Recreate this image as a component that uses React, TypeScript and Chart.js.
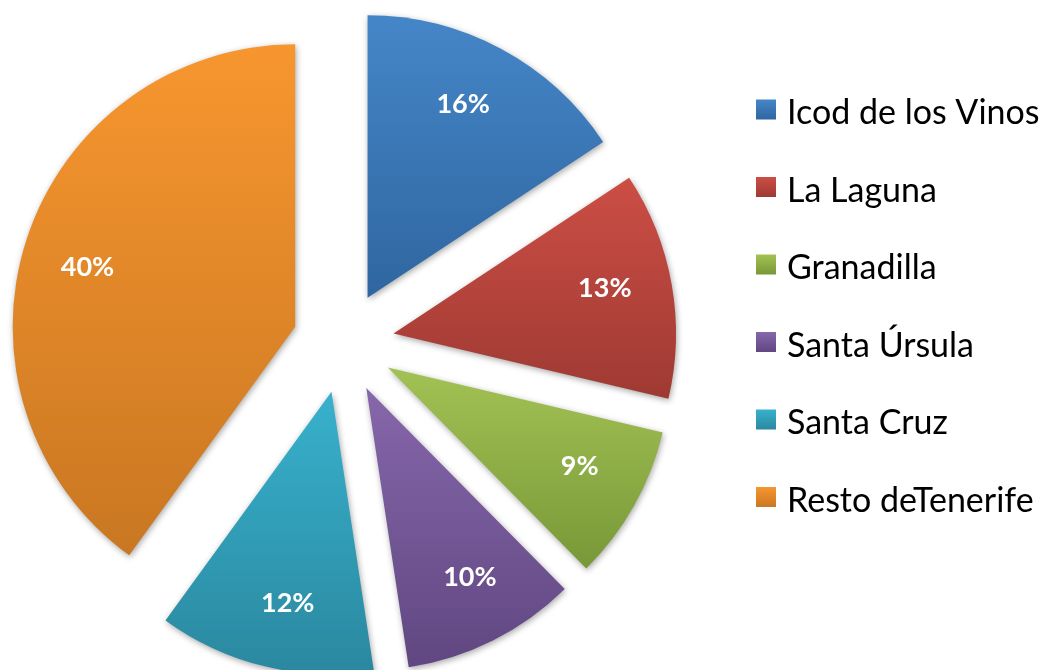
import React, { useEffect, useRef } from 'react';
import { Chart, registerables } from 'chart.js';

Chart.register(...registerables);

// ---- data ----
const categories = ['Icod de los Vinos', 'La Laguna', 'Granadilla', 'Santa Úrsula', 'Santa Cruz', 'Resto deTenerife'];
const shares = [15.7, 13.0, 8.9, 10.0, 12.4, 40.0];

// ---- styles ----
const topColors = ['#4586C8', '#CC4E45', '#A3C254', '#8667AB', '#38B1CD', '#F7962F'];
const bottomColors = ['#2F66A0', '#9E3A33', '#789838', '#604781', '#2A889F', '#C97722'];

const RADIUS = 282.5;
const EXPLODE = 50.8;
const LABEL_POS = 0.765;
const LABEL_ANGLE_BIAS = (-2 * Math.PI) / 180;
const LABEL_FONT = 'bold 27px Lato';
const LEGEND_FONT = '34px Lato';

function sliceAngles(i: number) {
  const total = shares.reduce((a, b) => a + b, 0);
  let cum = 0;
  for (let k = 0; k < i; k++) cum += shares[k];
  const start = -Math.PI / 2 + (cum / total) * Math.PI * 2;
  const end = start + (shares[i] / total) * Math.PI * 2;
  return { start, end };
}

function sliceBox(chart: any, i: number) {
  const a = chart.chartArea;
  const cx = (a.left + a.right) / 2;
  const cy = (a.top + a.bottom) / 2;
  const { start, end } = sliceAngles(i);
  const mid = (start + end) / 2;
  const sx = cx + Math.cos(mid) * EXPLODE;
  const sy = cy + Math.sin(mid) * EXPLODE;
  let minY = sy;
  let maxY = sy;
  for (let k = 0; k <= 90; k++) {
    const t = start + ((end - start) * k) / 90;
    const y = sy + Math.sin(t) * RADIUS;
    if (y < minY) minY = y;
    if (y > maxY) maxY = y;
  }
  return { sx, sy, minY, maxY };
}

const explodePlugin = {
  id: 'explodeAndLabels',
  beforeDatasetsDraw(chart: any) {
    const meta = chart.getDatasetMeta(0);
    const a = chart.chartArea;
    const cx = (a.left + a.right) / 2;
    const cy = (a.top + a.bottom) / 2;
    meta.data.forEach((arc: any) => {
      const mid = (arc.startAngle + arc.endAngle) / 2;
      arc.x = cx + Math.cos(mid) * EXPLODE;
      arc.y = cy + Math.sin(mid) * EXPLODE;
    });
    const ctx = chart.ctx;
    ctx.save();
    ctx.shadowColor = 'rgba(0,0,0,0.35)';
    ctx.shadowBlur = 6;
    ctx.shadowOffsetX = 1;
    ctx.shadowOffsetY = 2;
  },
  afterDatasetsDraw(chart: any) {
    const ctx = chart.ctx;
    ctx.restore();
    const meta = chart.getDatasetMeta(0);
    const total = shares.reduce((a, b) => a + b, 0);
    ctx.save();
    ctx.font = LABEL_FONT;
    ctx.fillStyle = '#ffffff';
    ctx.textAlign = 'center';
    ctx.textBaseline = 'middle';
    meta.data.forEach((arc: any, i: number) => {
      const mid = (arc.startAngle + arc.endAngle) / 2 + LABEL_ANGLE_BIAS;
      const r = arc.outerRadius * LABEL_POS;
      const x = arc.x + Math.cos(mid) * r;
      const y = arc.y + Math.sin(mid) * r;
      ctx.fillText(Math.round((shares[i] / total) * 100) + '%', x, y);
    });
    ctx.restore();

    // legend
    ctx.save();
    const boxX = 756;
    const boxSize = 20;
    const textX = 787;
    const firstRow = 109.5;
    const rowGap = 77.5;
    ctx.font = LEGEND_FONT;
    ctx.textAlign = 'left';
    ctx.textBaseline = 'alphabetic';
    chart.data.labels.forEach((label: string, i: number) => {
      const cyRow = firstRow + i * rowGap;
      const g = ctx.createLinearGradient(0, cyRow - boxSize / 2, 0, cyRow + boxSize / 2);
      g.addColorStop(0, topColors[i]);
      g.addColorStop(1, bottomColors[i]);
      ctx.fillStyle = g;
      ctx.fillRect(boxX, cyRow - boxSize / 2, boxSize, boxSize);
      ctx.fillStyle = '#000000';
      ctx.fillText(label, textX, cyRow + 14.5);
    });
    ctx.restore();
  },
};

export default function App() {
  const canvasRef = useRef<HTMLCanvasElement | null>(null);

  useEffect(() => {
    if (!canvasRef.current) return;
    const chart = new Chart(canvasRef.current, {
      type: 'pie',
      data: {
        labels: categories,
        datasets: [
          {
            data: shares,
            radius: RADIUS,
            borderWidth: 0,
            clip: false,
            backgroundColor: (c: any) => {
              const i = c.dataIndex ?? 0;
              const chart = c.chart;
              if (!chart || !chart.chartArea) return topColors[i];
              const b = sliceBox(chart, i);
              const g = chart.ctx.createLinearGradient(0, b.minY, 0, b.maxY);
              g.addColorStop(0, topColors[i]);
              g.addColorStop(1, bottomColors[i]);
              return g;
            },
          } as any,
        ],
      },
      options: {
        responsive: false,
        animation: false,
        layout: { padding: { left: 0, right: 360, top: 15, bottom: 0 } },
        plugins: {
          legend: { display: false },
          tooltip: { enabled: false },
        },
        events: [],
      },
      plugins: [explodePlugin],
    });
    return () => chart.destroy();
  }, []);

  return (
    <div style={{ position: 'fixed', left: 0, top: 0, width: 1047, height: 670, background: '#fff' }}>
      <canvas ref={canvasRef} width={1047} height={670} style={{ display: 'block' }} />
    </div>
  );
}
